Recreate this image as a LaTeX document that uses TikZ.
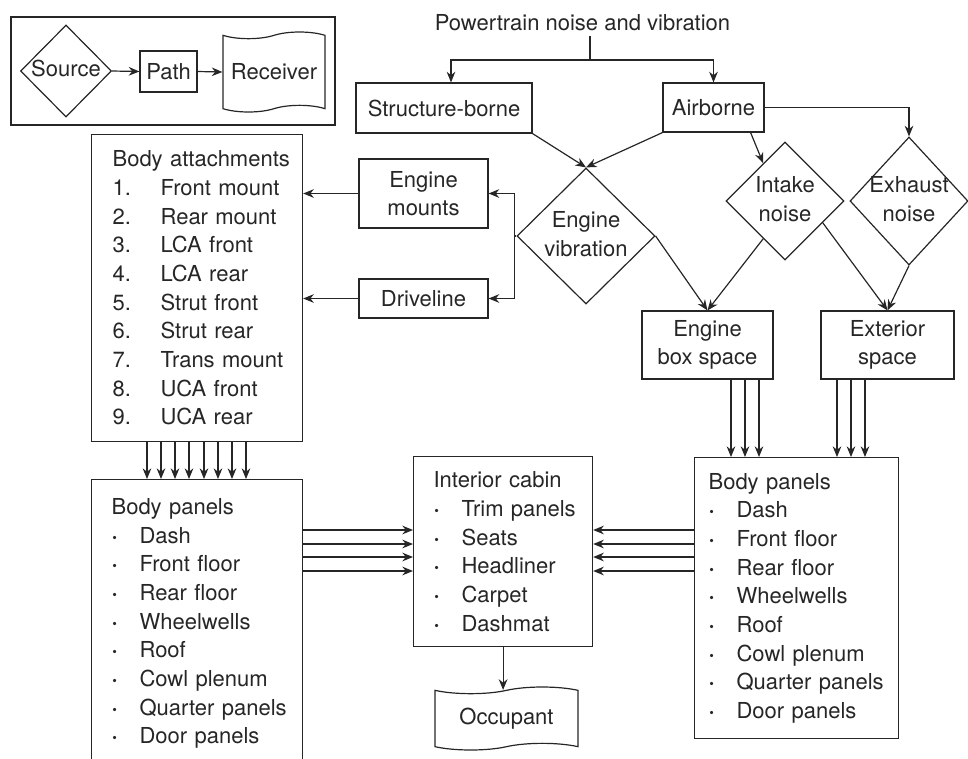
\documentclass[tikz,border=0pt]{standalone}
\usepackage{fontspec}
\setmainfont{TeX Gyre Heros}
\usetikzlibrary{shapes.geometric,shapes.symbols,arrows.meta,calc}
\newcommand{\dtxt}[1]{\makebox[0pt]{\begin{tabular}{@{}c@{}}#1\end{tabular}}}
\newcommand{\numitem}[2]{\mbox{\makebox[36pt][l]{#1}#2}}
\newcommand{\dotitem}[1]{\mbox{\makebox[21pt][l]{\bfseries\textperiodcentered}#1}}
\begin{document}
\begin{tikzpicture}[x=0.75pt,y=-0.75pt,
  >={Stealth[length=8pt,width=6.5pt]},
  color=black!85, line width=0.9pt,
  every node/.style={font=\fontsize{16.5}{21.5}\selectfont},
  box/.style={draw,inner sep=0pt,align=center},
  dia/.style={draw,shape=diamond,inner sep=0pt},
  wave/.style={draw,shape=tape,inner sep=0pt,tape bend height=5pt},
  lst/.style={draw,anchor=north west,inner ysep=0pt,align=left}]
\useasboundingbox (0,0) rectangle (968,758);
\clip (0,0) rectangle (968,758);
\node[draw,minimum width=243pt,minimum height=81pt] (key) at (173,71) {};
\node[dia,minimum width=68.25pt,minimum height=69pt] (src) at (66,71) {\dtxt{Source}};
\node[box,minimum width=42.75pt,minimum height=30.75pt] (pth) at (168.5,71.5) {Path};
\node[wave,minimum width=76.5pt,minimum height=60pt] (rcv) at (274,72) {Receiver};
\draw[->] (src.east) -- (pth.west);
\draw[->] (pth.east) -- (rcv.west);
\node (top) at (582.5,23) {Powertrain noise and vibration};
\node[box,minimum width=132pt,minimum height=37.5pt] (sb) at (444,108) {Structure-borne};
\node[box,minimum width=75.75pt,minimum height=36.75pt] (ab) at (713.5,107.5) {Airborne};
\node[dia,minimum width=103.5pt,minimum height=102pt] (ev) at (586,236) {\dtxt{Engine\\vibration}};
\node[dia,minimum width=88.5pt,minimum height=88.5pt] (in) at (785,201) {\dtxt{Intake\\noise}};
\node[dia,minimum width=88.5pt,minimum height=96pt] (exh) at (909,201) {\dtxt{Exhaust\\noise}};
\node[box,minimum width=96.75pt,minimum height=51.75pt] (em) at (423.5,193.5) {Engine\\mounts};
\node[box,minimum width=96.75pt,minimum height=29.25pt] (dl) at (423.5,298.5) {Driveline};
\node[box,minimum width=98.25pt,minimum height=51pt] (eb) at (707.5,345) {Engine\\box space};
\node[box,minimum width=99.75pt,minimum height=51pt] (ex) at (887.5,345) {Exterior\\space};
\node[lst,inner xsep=15.75pt,text width=126.75pt,minimum height=230.25pt] (att) at (91,134)
  {\mbox{Body attachments}\\ \numitem{1.}{Front mount}\\ \numitem{2.}{Rear mount}\\ \numitem{3.}{LCA front}\\
   \numitem{4.}{LCA rear}\\ \numitem{5.}{Strut front}\\ \numitem{6.}{Strut rear}\\ \numitem{7.}{Trans mount}\\
   \numitem{8.}{UCA front}\\ \numitem{9.}{UCA rear}};
\node[lst,inner xsep=15pt,text width=128.25pt,minimum height=216pt] (lbp) at (91,479)
  {Body panels\\ \dotitem{Dash}\\ \dotitem{Front floor}\\ \dotitem{Rear floor}\\ \dotitem{Wheelwells}\\
   \dotitem{Roof}\\ \dotitem{Cowl plenum}\\ \dotitem{Quarter panels}\\ \dotitem{Door panels}};
\node[lst,inner xsep=15pt,text width=104.25pt,minimum height=142.5pt] (ic) at (413,456)
  {\mbox{Interior cabin}\\ \dotitem{Trim panels}\\ \dotitem{Seats}\\ \dotitem{Headliner}\\ \dotitem{Carpet}\\ \dotitem{Dashmat}};
\node[lst,inner xsep=10.5pt,text width=132pt,minimum height=210.75pt] (rbp) at (694,457)
  {Body panels\\ \dotitem{Dash}\\ \dotitem{Front floor}\\ \dotitem{Rear floor}\\ \dotitem{Wheelwells}\\
   \dotitem{Roof}\\ \dotitem{Cowl plenum}\\ \dotitem{Quarter panels}\\ \dotitem{Door panels}};
\node[wave,minimum width=107.25pt,minimum height=47.25pt] (occ) at (506.5,718.5) {Occupant};
\coordinate (fork) at (590,60);
\draw (top.south -| fork) -- (fork);
\draw[->] (fork) -| ($(sb.north)+(7,0)$);
\draw[->] (fork) -| (ab.north);
\draw[->] (sb.south east) -- (ev.north);
\draw[->] (ab.south west) -- (ev.north);
\draw[->] ($(ab.south east)+(-14,0)$) -- (in.120);
\draw[->] (ab.east) -| (exh.north);
\draw[->] (ev.west) -- ++(-2,0) |- (em.east);
\draw[->] (ev.west) -- ++(-2,0) |- (dl.east);
\draw[->] (em.west) -- (em.west -| att.east);
\draw[->] (dl.west) -- (dl.west -| att.east);
\draw[->] (ev.east) -- (eb.north);
\draw[->] (in.240) -- (eb.north);
\draw[->] (in.-30) -- (ex.north);
\draw[->] (exh.south) -- (ex.north);
\foreach \x in {731,745,759} \draw[->] (eb.south -| \x,0) -- (rbp.north -| \x,0);
\foreach \x in {837,851,865} \draw[->] (ex.south -| \x,0) -- (rbp.north -| \x,0);
\foreach \x in {147,161,175,189,204,218,232,246} \draw[->] (att.south -| \x,0) -- (lbp.north -| \x,0);
\foreach \y in {530,544,557,571} \draw[->] (lbp.east |- 0,\y) -- (ic.west |- 0,\y);
\foreach \y in {530,544,557,571} \draw[->] (rbp.west |- 0,\y) -- (ic.east |- 0,\y);
\draw[->] (ic.south) -- (ic.south |- occ.north);
\end{tikzpicture}
\end{document}
